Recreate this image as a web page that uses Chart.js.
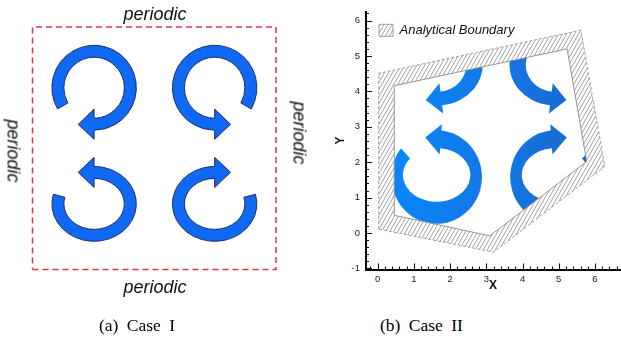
<!DOCTYPE html>
<html>
<head>
<meta charset="utf-8">
<script src="https://cdn.jsdelivr.net/npm/chart.js@4.4.1/dist/chart.umd.min.js"></script>
<style>
  body { margin: 0; background: #fff; width: 621px; height: 340px; position: relative; overflow: hidden;
         font-family: "Liberation Sans", Arial, sans-serif; }
  #chartA { position: absolute; left: 0; top: 0; }
  #chartB { position: absolute; left: 310px; top: 0; }
  .per { position: absolute; font-style: italic; font-size: 18px; color: #111; white-space: nowrap;
         transform: translate(-50%, -50%); }
  .per.rot { transform: translate(-50%, -50%) rotate(90deg); }
  .cap { position: absolute; top: 315px; line-height: 20px; font-family: "Liberation Serif", "Times New Roman", serif;
         font-size: 17.5px; color: #000; word-spacing: 4px; white-space: nowrap; }
</style>
</head>
<body>
<canvas id="chartA" width="310" height="300"></canvas>
<canvas id="chartB" width="311" height="300"></canvas>
<div class="per" style="left:155px;top:14px">periodic</div>
<div class="per" style="left:155px;top:287px">periodic</div>
<div class="per rot" style="left:12.5px;top:151px">periodic</div>
<div class="per rot" style="left:299px;top:132.5px">periodic</div>
<div class="cap" style="left:99px">(a) Case I</div>
<div class="cap" style="left:380px">(b) Case II</div>
<script>
// ---- Case I : periodic box [0, 2pi]^2 ----
const boxX = [0, 6.2832, 6.2832, 0, 0];
const boxY = [0, 0, 6.2832, 6.2832, 0];

// vortex arrows, order: top-left, top-right, bottom-left, bottom-right
const vaCx = [1.59, 4.70, 1.59, 4.70];
const vaCy = [4.71, 4.71, 1.70, 1.70];
const vaOuterRx = [1.09, 1.09, 1.09, 1.09];
const vaOuterRy = [1.10, 1.10, 0.97, 0.97];
const vaInnerCy = [4.71, 4.71, 1.70, 1.70];
const vaInnerRx = [0.78, 0.78, 0.78, 0.78];
const vaInnerRy = [0.79, 0.79, 0.66, 0.66];
const vaStart = [210, -30, 165, 15];    // degrees
const vaEnd = [-90, 270, 450, -270];
const vaHead = [0.39, 0.41];            // half width, length

// ---- Case II : analytical boundary ----
const outerX = [0.03, 0.03, 5.61, 6.27, 3.20];
const outerY = [0.11, 4.51, 5.73, 1.88, -0.54];
const innerX = [0.46, 0.46, 5.23, 5.77, 3.10];
const innerY = [0.50, 4.16, 5.20, 2.02, -0.08];

const vbCx = [1.65, 4.89, 1.63, 4.91];
const vbCy = [4.75, 4.75, 1.58, 1.58];
const vbOuterRx = [1.25, 1.25, 1.25, 1.25];
const vbOuterRy = [1.15, 1.15, 1.32, 1.32];
const vbInnerCy = [4.75, 4.75, 1.64, 1.64];
const vbInnerRx = [0.80, 0.80, 0.93, 0.93];
const vbInnerRy = [0.76, 0.76, 0.76, 0.76];
const vbStart = [210, -30, 142, 38];
const vbEnd = [-84, 264, 444, -264];
const vbHead = [0.42, 0.43];

const xTicks = [0, 1, 2, 3, 4, 5, 6];
const yTicks = [-1, 0, 1, 2, 3, 4, 5, 6];
const legendLabel = 'Analytical Boundary';

function pts(xs, ys) { return xs.map((v, i) => ({x: v, y: ys[i]})); }

function hatchPattern() {
  const c = document.createElement('canvas');
  c.width = 8; c.height = 14;
  const g = c.getContext('2d');
  g.strokeStyle = '#8c8c8c';
  g.lineWidth = 0.8;
  g.beginPath();
  for (const o of [-8, -4, 0, 4, 8]) { g.moveTo(o, 14); g.lineTo(o + 8, 0); }
  g.stroke();
  return g.createPattern(c, 'repeat');
}
const hatch = hatchPattern();

// draws the curved vortex arrows through the chart's scales
function vortexPlugin(v, style) {
  return {
    id: 'vortices',
    beforeDatasetsDraw(chart) {
      const {ctx, scales: {x, y}} = chart;
      const k = Math.abs(x.getPixelForValue(1) - x.getPixelForValue(0));
      const ep = (cx, cy, rx, ry, deg) => {
        const t = deg * Math.PI / 180;
        return [x.getPixelForValue(cx + rx * Math.cos(t)), y.getPixelForValue(cy + ry * Math.sin(t))];
      };
      ctx.save();
      if (style.clipX) {
        ctx.beginPath();
        style.clipX.forEach((vx, i) => {
          const px = x.getPixelForValue(vx), py = y.getPixelForValue(style.clipY[i]);
          i ? ctx.lineTo(px, py) : ctx.moveTo(px, py);
        });
        ctx.closePath();
        ctx.clip();
      }
      let fill = style.fill;
      if (style.grad) {
        fill = ctx.createLinearGradient(x.getPixelForValue(style.grad[0]), 0, x.getPixelForValue(style.grad[1]), 0);
        fill.addColorStop(0, style.colors[0]);
        fill.addColorStop(1, style.colors[1]);
      }
      for (let i = 0; i < v.cx.length; i++) {
        const s = v.start[i], e = v.end[i], acw = e > s, sg = acw ? 1 : -1;
        const cxp = x.getPixelForValue(v.cx[i]);
        const ocy = y.getPixelForValue(v.cy[i]), icy = y.getPixelForValue(v.icy[i]);
        const orx = v.orx[i] * k, ory = Math.abs(y.getPixelForValue(0) - y.getPixelForValue(v.ory[i]));
        const irx = v.irx[i] * k, iry = Math.abs(y.getPixelForValue(0) - y.getPixelForValue(v.iry[i]));
        const po = ep(v.cx[i], v.cy[i], v.orx[i], v.ory[i], e);
        const pi = ep(v.cx[i], v.icy[i], v.irx[i], v.iry[i], e);
        const pb = ep(v.cx[i], v.cy[i], v.orx[i], v.ory[i], e - sg * 1);
        let dx = po[0] - pb[0], dy = po[1] - pb[1], dl = Math.hypot(dx, dy);
        dx /= dl; dy /= dl;
        let ux = po[0] - pi[0], uy = po[1] - pi[1], ul = Math.hypot(ux, uy);
        ux /= ul; uy /= ul;
        const mx = (po[0] + pi[0]) / 2, my = (po[1] + pi[1]) / 2;
        const hw = v.head[0] * k, hl = v.head[1] * k;
        ctx.beginPath();
        ctx.ellipse(cxp, ocy, orx, ory, 0, -s * Math.PI / 180, -e * Math.PI / 180, acw);
        ctx.lineTo(mx + ux * hw, my + uy * hw);
        ctx.lineTo(mx + dx * hl, my + dy * hl);
        ctx.lineTo(mx - ux * hw, my - uy * hw);
        ctx.lineTo(pi[0], pi[1]);
        ctx.ellipse(cxp, icy, irx, iry, 0, -e * Math.PI / 180, -s * Math.PI / 180, !acw);
        ctx.closePath();
        ctx.fillStyle = fill;
        ctx.fill();
        if (style.stroke) {
          ctx.lineWidth = 0.9;
          ctx.strokeStyle = style.stroke;
          ctx.lineJoin = 'miter';
          ctx.stroke();
        }
      }
      ctx.restore();
    }
  };
}

// inward major/minor ticks, Tecplot style
const tecTicks = {
  id: 'tecTicks',
  afterDraw(chart) {
    const {ctx, chartArea: a, scales: {x, y}} = chart;
    ctx.save();
    ctx.strokeStyle = '#111';
    ctx.lineWidth = 1.1;
    ctx.beginPath();
    for (let i = Math.ceil(x.min / 0.2); i * 0.2 <= x.max; i++) {
      const px = Math.round(x.getPixelForValue(i * 0.2)) + 0.5;
      const len = i % 5 === 0 ? 6 : 3;
      ctx.moveTo(px, a.bottom); ctx.lineTo(px, a.bottom - len);
    }
    for (let i = Math.ceil(y.min / 0.2); i * 0.2 <= y.max; i++) {
      const py = Math.round(y.getPixelForValue(i * 0.2)) + 0.5;
      const len = i % 5 === 0 ? 6 : 3;
      ctx.moveTo(a.left, py); ctx.lineTo(a.left + len, py);
    }
    ctx.stroke();
    ctx.restore();
  }
};

Chart.defaults.font.family = '"Liberation Sans", Arial, sans-serif';
Chart.defaults.color = '#1a1a1a';

new Chart(document.getElementById('chartA'), {
  type: 'scatter',
  data: {
    datasets: [{
      data: pts(boxX, boxY),
      showLine: true,
      borderColor: '#dc3a42',
      borderWidth: 1.5,
      borderDash: [6, 4],
      pointRadius: 0,
      fill: false,
      clip: false
    }]
  },
  options: {
    responsive: false,
    animation: false,
    layout: { padding: { left: 32.5, right: 34, top: 27, bottom: 30.5 } },
    plugins: { legend: { display: false }, tooltip: { enabled: false } },
    scales: {
      x: { type: 'linear', min: 0, max: 6.2832, display: false },
      y: { type: 'linear', min: 0, max: 6.2832, display: false }
    }
  },
  plugins: [vortexPlugin(
    { cx: vaCx, cy: vaCy, icy: vaInnerCy, orx: vaOuterRx, ory: vaOuterRy, irx: vaInnerRx, iry: vaInnerRy,
      start: vaStart, end: vaEnd, head: vaHead },
    { fill: '#0f69f4', stroke: '#1b2150' })]
});

const ringX = outerX.concat([outerX[0]], [innerX[0]], innerX.slice(1).reverse(), [innerX[0]]);
const ringY = outerY.concat([outerY[0]], [innerY[0]], innerY.slice(1).reverse(), [innerY[0]]);

new Chart(document.getElementById('chartB'), {
  type: 'scatter',
  data: {
    datasets: [{
      label: legendLabel,
      data: pts(ringX, ringY),
      showLine: true,
      borderWidth: 0,
      borderColor: 'rgba(0,0,0,0)',
      backgroundColor: hatch,
      fill: 'shape',
      pointRadius: 0
    }, {
      data: pts(innerX.concat([innerX[0]]), innerY.concat([innerY[0]])),
      showLine: true,
      borderColor: '#8a8a8a',
      borderWidth: 0.9,
      pointRadius: 0,
      fill: false
    }, {
      data: pts(outerX.concat([outerX[0]]), outerY.concat([outerY[0]])),
      showLine: true,
      borderColor: '#8a8a8a',
      borderWidth: 0.8,
      borderDash: [3, 2],
      pointRadius: 0,
      fill: false
    }]
  },
  options: {
    responsive: false,
    animation: false,
    layout: { padding: { left: 0, right: 1, top: 8.5, bottom: 0 } },
    plugins: {
      tooltip: { enabled: false },
      legend: {
        position: 'chartArea',
        align: 'start',
        title: { display: true, text: ' ', font: { size: 9 }, padding: 0 },
        labels: {
          boxWidth: 14,
          boxHeight: 12,
          padding: 13,
          color: '#111',
          font: { size: 13, style: 'italic' },
          generateLabels: () => [{
            text: legendLabel, fillStyle: hatch, strokeStyle: '#8a8a8a', lineWidth: 0.8,
            hidden: false, datasetIndex: 0, fontColor: '#111'
          }]
        }
      }
    },
    scales: {
      x: {
        type: 'linear', min: -0.32, max: 6.69,
        afterBuildTicks: s => { s.ticks = xTicks.map(v => ({ value: v })); },
        afterFit: s => { s.height = 30.5; },
        grid: { display: false, drawTicks: false },
        border: { display: true, color: '#000', width: 2 },
        ticks: { padding: 4, font: { size: 9.5 }, color: '#222' },
        title: { display: true, text: 'X', font: { size: 12, weight: 'bold' }, color: '#111', padding: { top: 0, bottom: 7 } }
      },
      y: {
        type: 'linear', min: -1.03, max: 6.25,
        afterBuildTicks: s => { s.ticks = yTicks.map(v => ({ value: v })); },
        afterFit: s => { s.width = 56; },
        grid: { display: false, drawTicks: false },
        border: { display: true, color: '#000', width: 2 },
        ticks: { padding: 6, font: { size: 9.5 }, color: '#222' },
        title: { display: true, text: 'Y', font: { size: 12, weight: 'bold' }, color: '#111', padding: { top: 23, bottom: 0 } }
      }
    }
  },
  plugins: [vortexPlugin(
    { cx: vbCx, cy: vbCy, icy: vbInnerCy, orx: vbOuterRx, ory: vbOuterRy, irx: vbInnerRx, iry: vbInnerRy,
      start: vbStart, end: vbEnd, head: vbHead },
    { grad: [0.5, 5.5], colors: ['#0a86fa', '#1a6ad2'], clipX: innerX, clipY: innerY }), tecTicks]
});
</script>
</body>
</html>
